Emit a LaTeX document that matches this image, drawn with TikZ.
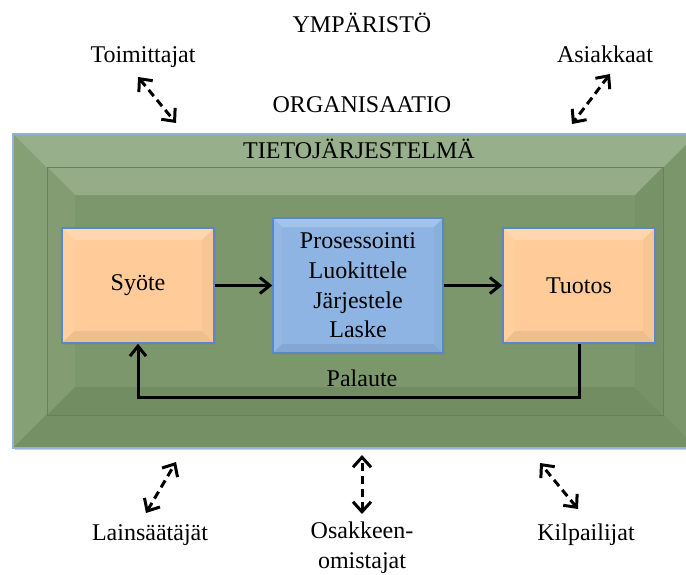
\documentclass[tikz,border=0pt]{standalone}
\usepackage{fontspec}
\setmainfont{Liberation Serif}
\usetikzlibrary{arrows.meta,shadows}
\definecolor{orggreen}{RGB}{127,155,110}
\definecolor{sysgreen}{RGB}{124,151,107}
\definecolor{peach}{RGB}{255,204,153}
\definecolor{procblue}{RGB}{141,180,226}
\definecolor{edgeblue}{RGB}{90,135,198}

\begin{document}
\begin{tikzpicture}[x=.5pt,y=-.5pt,
font=\fontsize{12pt}{14.8pt}\selectfont,
bevel/.style 2 args={fill=#2,
  path picture={
    \path (path picture bounding box.north west) coordinate (bvNW)
          (path picture bounding box.north east) coordinate (bvNE)
          (path picture bounding box.south east) coordinate (bvSE)
          (path picture bounding box.south west) coordinate (bvSW);
    \fill[#2!80!white] (bvNW)--(bvNE)--([shift={(-#1,-#1)}]bvNE)--([shift={(#1,-#1)}]bvNW)--cycle;
    \fill[#2!95!white] (bvNW)--(bvSW)--([shift={(#1,#1)}]bvSW)--([shift={(#1,-#1)}]bvNW)--cycle;
    \fill[#2!93!black] (bvSW)--(bvSE)--([shift={(-#1,#1)}]bvSE)--([shift={(#1,#1)}]bvSW)--cycle;
    \fill[#2!97!black] (bvSE)--(bvNE)--([shift={(-#1,-#1)}]bvNE)--([shift={(-#1,#1)}]bvSE)--cycle;
  }},
box/.style={draw=edgeblue,line width=.7pt,inner sep=0pt,align=center,
  drop shadow={opacity=.35,shadow xshift=1.2pt,shadow yshift=-1.2pt}},
arr/.style={-{Straight Barb[length=5pt,width=8pt]},line width=1.5pt},
darr/.style={{Straight Barb[length=5pt,width=9pt]}-{Straight Barb[length=5pt,width=9pt]},
  line width=1.5pt,dash pattern=on 4pt off 2.5pt},
lbl/.style={anchor=base,inner sep=0pt,align=center}]
\useasboundingbox (0,0) rectangle (686,574);
\clip (0,0) rectangle (686,574);
% organisaatio ja tietojarjestelma
\node[box,draw=edgeblue!65!white,line width=1pt,bevel={17pt}{orggreen},
  minimum width=342pt,minimum height=157pt](org) at (355,291) {};
\node[bevel={14pt}{sysgreen},draw=sysgreen!85!black,line width=.5pt,inner sep=0pt,
  minimum width=308pt,minimum height=124pt](tj) at (355,291) {};
% prosessi
\node[box,bevel={6pt}{peach},minimum width=76pt,minimum height=57.5pt](syote) at (138,285.5) {Syöte};
\node[box,bevel={4.5pt}{procblue},minimum width=85pt,minimum height=67.5pt](pros) at (358,285.5)
  {Prosessointi\\Luokittele\\Järjestele\\Laske};
\node[box,bevel={6pt}{peach},minimum width=76pt,minimum height=57.5pt](tuotos) at (579,285.5) {Tuotos};
\draw[arr](syote)--(pros);\draw[arr](pros)--(tuotos);
\draw[arr](tuotos.south)--++(0,54)-|(syote.south);
\node[lbl](pal) at (362,386) {Palaute};
% otsikot
\node[lbl](ymp) at (362,32) {YMPÄRISTÖ};
\node[lbl](orgtxt) at (362,112) {ORGANISAATIO};
\node[lbl](tjtxt) at (359,158) {TIETOJÄRJESTELMÄ};
% sidosryhmat
\node[lbl](toim) at (143,62) {Toimittajat};
\node[lbl](asiak) at (605,62) {Asiakkaat};
\node[lbl](lain) at (150,540) {Lainsäätäjät};
\node[lbl](osak) at (362,568) {Osakkeen-\\omistajat};
\node[lbl](kilp) at (586,540) {Kilpailijat};
\coordinate (toimA) at (138,77); \coordinate (toimB) at (176,123);
\coordinate (asiakA) at (610,74); \coordinate (asiakB) at (572,124);
\coordinate (lainA) at (146,513); \coordinate (lainB) at (176,462);
\coordinate (osakA) at (362,514); \coordinate (osakB) at (362,455);
\coordinate (kilpA) at (578,509); \coordinate (kilpB) at (540,463);
\draw[darr](toimA)--(toimB);\draw[darr](asiakA)--(asiakB);
\draw[darr](lainA)--(lainB);\draw[darr](osakA)--(osakB);\draw[darr](kilpA)--(kilpB);
\end{tikzpicture}
\end{document}
